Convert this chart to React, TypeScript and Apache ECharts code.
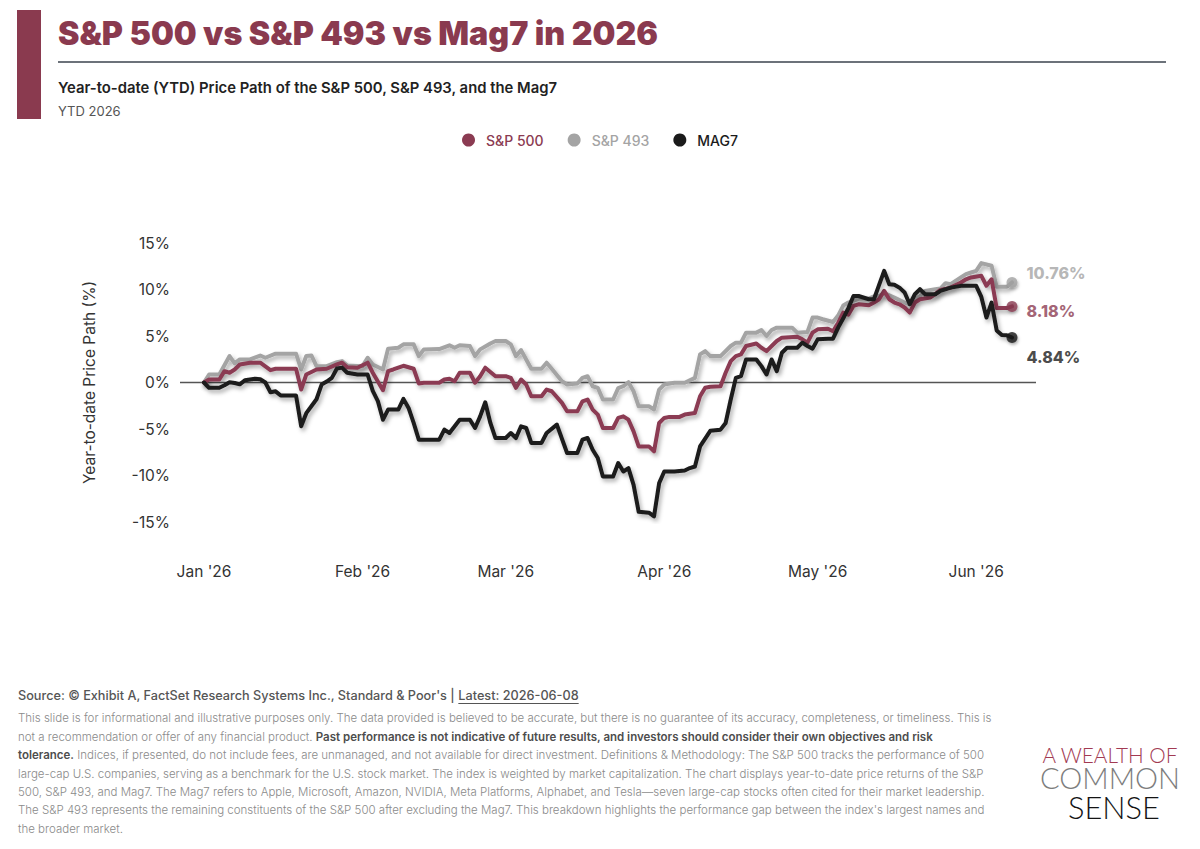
import React, { useEffect, useRef } from 'react';
import * as echarts from 'echarts';

const DAY = 86400000;
const MAROON = '#8b3b52';
const GRAY = '#a4a4a4';
const BLACK = '#1b1b1b';
const FONT = 'Inter, "Noto Sans", sans-serif';

const monthTickLabels = ["Jan '26", "Feb '26", "Mar '26", "Apr '26", "May '26", "Jun '26"];
const yTickValues = [-15, -10, -5, 0, 5, 10, 15];

// S&P 500
const sp500Dates = [
  '2026-01-01','2026-01-02','2026-01-04','2026-01-05','2026-01-06','2026-01-07','2026-01-08','2026-01-10','2026-01-12','2026-01-14','2026-01-15','2026-01-19','2026-01-20','2026-01-21','2026-01-23','2026-01-25','2026-01-27','2026-01-28','2026-01-29','2026-01-31',
  '2026-02-02','2026-02-03','2026-02-05','2026-02-06','2026-02-07','2026-02-09','2026-02-11','2026-02-12','2026-02-13','2026-02-16','2026-02-17','2026-02-18','2026-02-19','2026-02-20','2026-02-22','2026-02-23','2026-02-24','2026-02-25','2026-02-27',
  '2026-03-01','2026-03-02','2026-03-03','2026-03-04','2026-03-05','2026-03-06','2026-03-08','2026-03-09','2026-03-10','2026-03-12','2026-03-13','2026-03-15','2026-03-16','2026-03-17','2026-03-18','2026-03-19','2026-03-20','2026-03-22','2026-03-23','2026-03-24','2026-03-25','2026-03-26','2026-03-27','2026-03-29','2026-03-30','2026-03-31',
  '2026-04-01','2026-04-02','2026-04-04','2026-04-05','2026-04-07','2026-04-08','2026-04-09','2026-04-10','2026-04-12','2026-04-13','2026-04-14','2026-04-15','2026-04-16','2026-04-17','2026-04-19','2026-04-20','2026-04-21','2026-04-22','2026-04-23','2026-04-24','2026-04-27','2026-04-28','2026-04-29','2026-04-30',
  '2026-05-01','2026-05-03','2026-05-04','2026-05-05','2026-05-06','2026-05-07','2026-05-08','2026-05-09','2026-05-11','2026-05-12','2026-05-13','2026-05-14','2026-05-15','2026-05-16','2026-05-17','2026-05-18','2026-05-19','2026-05-20','2026-05-21','2026-05-23','2026-05-24','2026-05-25','2026-05-27','2026-05-29','2026-05-30','2026-05-31',
  '2026-06-02','2026-06-03','2026-06-04','2026-06-05','2026-06-07','2026-06-08',
];
const sp500Values = [
  0, 0.32, 0.32, 1.22, 1.05, 1.4, 1.94, 2.13, 2.13, 1.33, 1.48, 1.48, -0.76, 0.86, 1.4, 1.48, 1.94, 2.13, 1.65, 1.59,
  2.13, 1.05, -0.83, 1.22, 1.4, 1.8, 1.48, -0.1, -0.03, -0.03, 0.32, 0.4, 0.14, 1.05, 1.05, -0.03, 0.68, 1.59, 0.68,
  0.68, 0.5, -0.57, 0.32, -0.22, -1.48, -1.48, -0.76, -0.94, -2.19, -3.1, -3.1, -2.02, -1.83, -2.91, -3.45, -4.89, -4.89, -3.81, -3.64, -4.0, -5.25, -6.87, -6.87, -7.4, -4.35,
  -3.81, -3.7, -3.7, -3.45, -3.27, -1.48, -0.57, -0.46, -0.4, 1.05, 2.3, 2.84, 3.02, 3.92, 4.2, 3.74, 3.38, 3.92, 4.46, 4.82, 4.93, 4.64, 4.28, 5.36,
  5.72, 5.79, 5.5, 6.4, 7.52, 7.3, 8.23, 8.41, 8.3, 8.6, 8.95, 9.85, 8.95, 8.6, 8.41, 8.06, 7.52, 8.6, 8.95, 9.14, 9.5, 9.96, 10.2, 10.76, 11.1, 11.3,
  11.47, 10.4, 11.1, 8.0, 8.0, 8.18,
];

// S&P 493
const sp493Dates = [
  '2026-01-01','2026-01-02','2026-01-04','2026-01-06','2026-01-07','2026-01-08','2026-01-10','2026-01-12','2026-01-13','2026-01-15','2026-01-19','2026-01-20','2026-01-21','2026-01-22','2026-01-23','2026-01-25','2026-01-27','2026-01-28','2026-01-29',
  '2026-02-01','2026-02-02','2026-02-03','2026-02-05','2026-02-06','2026-02-08','2026-02-09','2026-02-11','2026-02-12','2026-02-13','2026-02-16','2026-02-18','2026-02-19','2026-02-20','2026-02-22','2026-02-23','2026-02-24','2026-02-26','2026-02-27',
  '2026-03-01','2026-03-02','2026-03-03','2026-03-04','2026-03-05','2026-03-06','2026-03-08','2026-03-09','2026-03-10','2026-03-12','2026-03-13','2026-03-15','2026-03-16','2026-03-17','2026-03-18','2026-03-19','2026-03-20','2026-03-22','2026-03-23','2026-03-24','2026-03-25','2026-03-26','2026-03-27','2026-03-29','2026-03-30','2026-03-31',
  '2026-04-01','2026-04-03','2026-04-05','2026-04-07','2026-04-08','2026-04-09','2026-04-10','2026-04-12','2026-04-14','2026-04-15','2026-04-16','2026-04-17','2026-04-19','2026-04-20','2026-04-21','2026-04-22','2026-04-23','2026-04-26','2026-04-27','2026-04-29','2026-04-30',
  '2026-05-01','2026-05-02','2026-05-04','2026-05-05','2026-05-06','2026-05-07','2026-05-09','2026-05-11','2026-05-12','2026-05-13','2026-05-14','2026-05-16','2026-05-18','2026-05-19','2026-05-20','2026-05-21','2026-05-22','2026-05-24','2026-05-25','2026-05-26','2026-05-27','2026-05-29','2026-05-30','2026-05-31',
  '2026-06-01','2026-06-02','2026-06-04','2026-06-05','2026-06-07','2026-06-08',
];
const sp493Values = [
  0, 0.86, 0.86, 2.84, 2.05, 2.48, 2.48, 2.9, 2.66, 3.1, 3.1, 1.4, 2.84, 2.91, 1.76, 1.76, 2.19, 2.3, 1.83,
  1.76, 2.66, 1.94, 1.4, 3.64, 3.74, 4.1, 4.1, 2.84, 3.56, 3.6, 4.0, 3.74, 4.0, 3.92, 2.84, 3.56, 4.2, 4.46,
  4.46, 4.1, 2.84, 3.48, 2.48, 1.48, 1.48, 2.13, 1.48, 0.14, -0.22, -0.11, 0.5, 0.68, -0.4, -0.57, -1.83, -1.83, -0.6, -0.4, 0.03, -0.94, -2.56, -2.56, -2.9, -0.76,
  -0.22, -0.03, -0.03, 0.5, 3.02, 3.38, 2.84, 2.84, 3.92, 4.28, 4.28, 5.36, 5.36, 5.64, 5.0, 5.64, 5.9, 5.9, 5.36, 5.43, 6.98,
  6.98, 6.8, 6.5, 7.2, 8.27, 8.6, 9.0, 9.03, 9.25, 9.3, 9.6, 9.14, 8.6, 8.4, 9.03, 9.3, 9.85, 10.03, 10.1, 10.68, 10.57, 11.3, 11.65, 11.83,
  12.0, 12.84, 12.55, 10.3, 10.3, 10.76,
];

// Mag7
const mag7Dates = [
  '2026-01-01','2026-01-02','2026-01-04','2026-01-05','2026-01-06','2026-01-07','2026-01-08','2026-01-09','2026-01-11','2026-01-12','2026-01-13','2026-01-14','2026-01-15','2026-01-16','2026-01-19','2026-01-20','2026-01-21','2026-01-23','2026-01-24','2026-01-25','2026-01-26','2026-01-27','2026-01-28','2026-01-29','2026-01-31',
  '2026-02-02','2026-02-03','2026-02-04','2026-02-05','2026-02-06','2026-02-08','2026-02-09','2026-02-10','2026-02-11','2026-02-12','2026-02-16','2026-02-17','2026-02-18','2026-02-20','2026-02-22','2026-02-23','2026-02-24','2026-02-25','2026-02-26','2026-02-27',
  '2026-03-01','2026-03-02','2026-03-03','2026-03-04','2026-03-05','2026-03-06','2026-03-08','2026-03-09','2026-03-11','2026-03-13','2026-03-15','2026-03-16','2026-03-17','2026-03-18','2026-03-19','2026-03-20','2026-03-22','2026-03-23','2026-03-24','2026-03-25','2026-03-26','2026-03-27','2026-03-29','2026-03-30','2026-03-31',
  '2026-04-01','2026-04-03','2026-04-05','2026-04-06','2026-04-07','2026-04-08','2026-04-10','2026-04-12','2026-04-13','2026-04-14','2026-04-15','2026-04-16','2026-04-17','2026-04-19','2026-04-20','2026-04-21','2026-04-22','2026-04-23','2026-04-24','2026-04-25','2026-04-27','2026-04-28','2026-04-29','2026-04-30',
  '2026-05-01','2026-05-03','2026-05-04','2026-05-05','2026-05-06','2026-05-07','2026-05-08','2026-05-09','2026-05-11','2026-05-12','2026-05-14','2026-05-15','2026-05-16','2026-05-17','2026-05-18','2026-05-19','2026-05-20','2026-05-21','2026-05-22','2026-05-24','2026-05-25','2026-05-27','2026-05-29',
  '2026-06-01','2026-06-02','2026-06-03','2026-06-04','2026-06-05','2026-06-06','2026-06-07','2026-06-08',
];
const mag7Values = [
  0, -0.57, -0.57, -0.3, 0.03, -0.05, -0.2, 0.25, 0.4, 0.35, 0.0, -1.05, -0.95, -1.4, -1.4, -4.7, -3.3, -1.8, -0.22, 0.1, 0.5, 1.5, 1.6, 1.05, 0.86,
  0.86, -0.9, -2.0, -4.0, -2.91, -2.91, -1.76, -2.73, -4.35, -6.15, -6.15, -5.07, -5.43, -4.0, -4.0, -4.89, -3.64, -2.13, -4.35, -5.97,
  -5.97, -5.43, -5.97, -4.71, -4.89, -6.5, -6.5, -5.43, -4.53, -7.58, -7.58, -6.15, -5.97, -7.23, -8.12, -10.1, -10.1, -8.66, -9.57, -9.2, -11.0, -13.9, -14.0, -14.4, -10.82,
  -9.57, -9.57, -9.46, -9.2, -9.03, -6.87, -5.2, -5.07, -4.35, -1.83, 0.5, 0.68, 2.48, 2.48, 1.76, 0.86, 2.48, 1.22, 3.2, 3.74, 3.74, 4.28, 3.92, 3.64,
  4.64, 4.71, 4.71, 5.9, 6.9, 8.0, 9.3, 9.3, 8.95, 8.95, 12.0, 10.57, 10.5, 10.2, 9.68, 8.41, 9.49, 10.03, 9.49, 9.49, 9.85, 10.2, 10.39,
  10.39, 9.2, 6.98, 8.6, 5.6, 5.1, 5.07, 4.84,
];

const footerLines = [
  'This slide is for informational and illustrative purposes only. The data provided is believed to be accurate, but there is no guarantee of its accuracy, completeness, or timeliness. This is',
  'not a recommendation or offer of any financial product. {b|Past performance is not indicative of future results, and investors should consider their own objectives and risk}',
  '{b|tolerance.} Indices, if presented, do not include fees, are unmanaged, and not available for direct investment. Definitions & Methodology: The S&P 500 tracks the performance of 500',
  'large-cap U.S. companies, serving as a benchmark for the U.S. stock market. The index is weighted by market capitalization. The chart displays year-to-date price returns of the S&P',
  '500, S&P 493, and Mag7. The Mag7 refers to Apple, Microsoft, Amazon, NVIDIA, Meta Platforms, Alphabet, and Tesla\u2014seven large-cap stocks often cited for their market leadership.',
  "The S&P 493 represents the remaining constituents of the S&P 500 after excluding the Mag7. This breakdown highlights the performance gap between the index's largest names and",
  'the broader market.',
];

const sourceText = "Source: \u00a9 Exhibit A, FactSet Research Systems Inc., Standard & Poor's | ";
const latestText = 'Latest: 2026-06-08';

function toTime(s: string): number {
  const [y, m, d] = s.split('-').map(Number);
  return new Date(y, m - 1, d).getTime();
}
function measure(text: string, font: string): number {
  const ctx = document.createElement('canvas').getContext('2d');
  if (!ctx) return text.length * 6;
  ctx.font = font;
  return ctx.measureText(text).width;
}
function fitSize(text: string, weight: number, family: string, target: number, base: number, lo: number, hi: number) {
  const w = measure(text, `${weight} ${base}px ${family}`);
  if (!w) return base;
  return Math.max(lo, Math.min(hi, (base * target) / w));
}

export default function App() {
  const ref = useRef<HTMLDivElement>(null);

  useEffect(() => {
    if (!ref.current) return;
    const chart = echarts.init(ref.current, null, { renderer: 'svg' });

    const t0 = toTime(sp500Dates[0]);
    const tEnd = toTime(sp500Dates[sp500Dates.length - 1]);
    const monthStarts = monthTickLabels.map((_, i) => new Date(2026, i, 1).getTime());

    const titleText = 'S&P 500 vs S&P 493 vs Mag7 in 2026';
    const subText = 'Year-to-date (YTD) Price Path of the S&P 500, S&P 493, and the Mag7';
    const titleSize = fitSize(titleText, 900, 'Inter', 600, 33, 28, 36);
    const subSize = fitSize(subText, 600, 'Inter', 500, 15.5, 13, 17);
    const paraSize = fitSize(footerLines[0], 300, 'Inter', 974, 11.5, 10, 13);
    const srcSize = fitSize(sourceText + latestText, 500, 'Inter', 561, 13.3, 11, 15);
    const srcW = measure(sourceText, `500 ${srcSize}px Inter`);
    const latestW = measure(latestText, `500 ${srcSize}px Inter`);
    const logo1 = fitSize('A WEALTH OF', 300, 'Lato', 136, 19, 15, 23);
    const logo2 = fitSize('COMMON', 300, 'Lato', 140, 27, 22, 32);
    const logo3 = fitSize('SENSE', 300, 'Lato', 92, 33, 27, 38);

    const lineSeries = (name: string, dates: string[], values: number[], color: string, z: number) => ({
      name,
      type: 'line',
      data: dates.map((d, i) => [toTime(d), values[i]]),
      symbol: 'none',
      showSymbol: false,
      silent: true,
      z,
      itemStyle: { color },
      lineStyle: {
        color,
        width: 4,
        join: 'round',
        cap: 'round',
        shadowColor: 'rgba(0,0,0,0.32)',
        shadowBlur: 4,
        shadowOffsetX: 2,
        shadowOffsetY: 3,
      },
      emphasis: { disabled: true },
    });

    const lastT = (a: string[]) => toTime(a[a.length - 1]);
    const lastV = (a: number[]) => a[a.length - 1];

    const logoText = (text: string, x: number, y: number, size: number, fill: string) => ({
      type: 'text',
      silent: true,
      style: {
        text, x, y, fill,
        fontSize: size,
        lineHeight: Math.round(size * 0.78),
        fontWeight: 300,
        fontFamily: 'Lato, sans-serif',
        align: 'center',
        verticalAlign: 'middle',
      },
    });

    const option: any = {
      animation: false,
      backgroundColor: '#ffffff',
      textStyle: { fontFamily: FONT },
      legend: {
        top: 128,
        left: 'center',
        icon: 'circle',
        itemWidth: 13,
        itemHeight: 13,
        itemGap: 24,
        selectedMode: false,
        textStyle: { fontSize: 14, fontWeight: 500, fontFamily: FONT, padding: [0, 0, 0, 6] },
        data: [
          { name: 'S&P 500', textStyle: { color: MAROON } },
          { name: 'S&P 493', textStyle: { color: GRAY } },
          { name: 'MAG7', textStyle: { color: BLACK } },
        ],
      },
      grid: { left: 180, right: 164, top: 243, bottom: 327, containLabel: false },
      xAxis: {
        type: 'value',
        scale: true,
        min: t0 - 4.69 * DAY,
        max: tEnd + 4.69 * DAY,
        axisLine: { show: false },
        axisTick: { show: false },
        splitLine: { show: false },
        axisLabel: {
          customValues: monthStarts,
          formatter: (v: number) => monthTickLabels[new Date(v).getMonth()] || '',
          fontSize: 15.5,
          color: '#333',
          fontFamily: FONT,
          margin: 41,
        },
      },
      yAxis: {
        type: 'value',
        min: yTickValues[0],
        max: yTickValues[yTickValues.length - 1],
        interval: 5,
        name: 'Year-to-date Price Path (%)',
        nameLocation: 'middle',
        nameGap: 83,
        nameTextStyle: { fontSize: 15.5, color: '#333', fontFamily: FONT },
        axisLine: { show: false },
        axisTick: { show: false },
        axisLabel: {
          formatter: (v: number) => `${v}%`,
          fontSize: 15.5,
          color: '#333',
          fontFamily: FONT,
          margin: 10,
        },
        splitLine: {
          show: true,
          lineStyle: {
            width: 1.3,
            color: yTickValues.map((v) => (v === 0 ? '#555555' : 'rgba(0,0,0,0)')),
          },
        },
      },
      series: [
        lineSeries('S&P 493', sp493Dates, sp493Values, GRAY, 2),
        lineSeries('S&P 500', sp500Dates, sp500Values, MAROON, 3),
        lineSeries('MAG7', mag7Dates, mag7Values, BLACK, 4),
        {
          name: 'ends',
          type: 'scatter',
          symbol: 'circle',
          symbolSize: 11,
          silent: true,
          z: 10,
          itemStyle: { shadowColor: 'rgba(0,0,0,0.3)', shadowBlur: 3, shadowOffsetX: 1, shadowOffsetY: 2 },
          label: {
            show: true,
            position: 'right',
            distance: 5,
            fontFamily: FONT,
            fontWeight: 800,
            fontSize: 16,
            formatter: (p: any) => `${Number(p.value[1]).toFixed(2)}%`,
          },
          data: [
            { value: [lastT(sp493Dates), lastV(sp493Values)], itemStyle: { color: GRAY }, label: { color: GRAY, offset: [4, -9] } },
            { value: [lastT(sp500Dates), lastV(sp500Values)], itemStyle: { color: MAROON }, label: { color: MAROON, offset: [4, 4.5] } },
            { value: [lastT(mag7Dates), lastV(mag7Values)], itemStyle: { color: BLACK }, label: { color: BLACK, offset: [4, 20] } },
          ],
        },
      ],
      graphic: [
        { type: 'rect', shape: { x: 17, y: 10, width: 24, height: 109 }, style: { fill: '#8a3a4f' }, silent: true },
        {
          type: 'text', silent: true,
          style: { text: titleText, x: 58, y: 33, fill: '#8a3a4f', fontSize: titleSize, fontWeight: 900, fontFamily: FONT, align: 'left', verticalAlign: 'middle' },
        },
        { type: 'line', silent: true, shape: { x1: 58, y1: 62, x2: 1166, y2: 62 }, style: { stroke: '#6c727a', lineWidth: 2 } },
        {
          type: 'text', silent: true,
          style: { text: subText, x: 58, y: 87.5, fill: '#222', fontSize: subSize, fontWeight: 600, fontFamily: FONT, align: 'left', verticalAlign: 'middle' },
        },
        {
          type: 'text', silent: true,
          style: { text: 'YTD 2026', x: 58, y: 110.5, fill: '#555', fontSize: 13, fontWeight: 400, fontFamily: FONT, align: 'left', verticalAlign: 'middle' },
        },
        {
          type: 'text', silent: true,
          style: { text: sourceText, x: 18, y: 695.3, fill: '#555', fontSize: srcSize, fontWeight: 500, fontFamily: FONT, align: 'left', verticalAlign: 'middle' },
        },
        {
          type: 'text', silent: true,
          style: { text: latestText, x: 18 + srcW, y: 695.3, fill: '#555', fontSize: srcSize, fontWeight: 500, fontFamily: FONT, align: 'left', verticalAlign: 'middle' },
        },
        { type: 'line', silent: true, shape: { x1: 18 + srcW, y1: 703.5, x2: 18 + srcW + latestW, y2: 703.5 }, style: { stroke: '#555', lineWidth: 1 } },
        ...footerLines.map((line, i) => ({
          type: 'text', silent: true,
          style: {
            text: line,
            x: 18,
            y: 718.3 + i * 18.4,
            fill: '#8a8a8a',
            fontSize: paraSize,
            fontWeight: 300,
            fontFamily: FONT,
            align: 'left',
            verticalAlign: 'middle',
            rich: { b: { fill: '#4d4d4d', fontWeight: 600, fontSize: paraSize, fontFamily: FONT } },
          },
        })),
        logoText('A WEALTH OF', 1110, 755, logo1, '#a23a52'),
        logoText('COMMON', 1110, 777.5, logo2, '#7d7d7d'),
        logoText('SENSE', 1114, 807.5, logo3, '#141414'),
      ],
    };

    chart.setOption(option);
    return () => chart.dispose();
  }, []);

  return (
    <div
      ref={ref}
      style={{ position: 'absolute', left: 0, top: 0, width: 1200, height: 849, background: '#ffffff' }}
    />
  );
}
